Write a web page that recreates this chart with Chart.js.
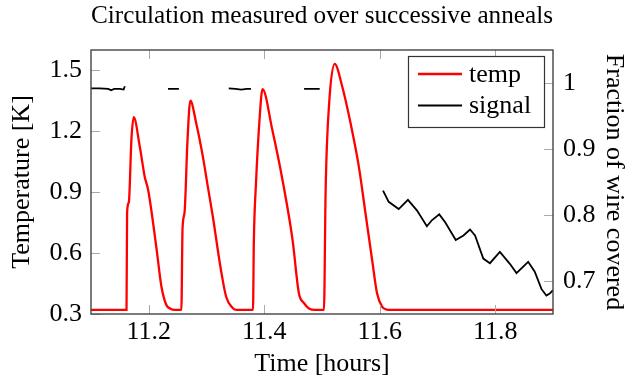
<!DOCTYPE html>
<html>
<head>
<meta charset="utf-8">
<script src="https://cdn.jsdelivr.net/npm/chart.js@4"></script>
<style>
  body { margin: 0; background: #fff; }
  #wrap { width: 628px; height: 379px; }
</style>
</head>
<body>
<div id="wrap"><canvas id="chart" width="628" height="379"></canvas></div>
<script>
// Data
const xTicks = [11.2, 11.4, 11.6, 11.8];
const tempTicks = [0.3, 0.6, 0.9, 1.2, 1.5];
const fracTicks = [0.7, 0.8, 0.9, 1];

const tempTime = [11.100, 11.1615, 11.1625, 11.1655, 11.170, 11.174, 11.1845, 11.193, 11.199, 11.213, 11.222, 11.2305, 11.237, 11.245,
  11.2565, 11.2585, 11.262, 11.267, 11.272, 11.2822, 11.2937, 11.3023, 11.311, 11.325, 11.334, 11.345, 11.352,
  11.3805, 11.382, 11.3857, 11.3914, 11.397, 11.414, 11.4316, 11.449, 11.460, 11.469, 11.478, 11.488,
  11.5034, 11.5063, 11.512, 11.5219, 11.535, 11.5495, 11.5638, 11.5753, 11.5868, 11.5953, 11.604, 11.612, 11.621, 11.900];
const tempVals = [0.32, 0.32, 0.80, 0.85, 1.16, 1.269, 1.124, 0.976, 0.911, 0.632, 0.434, 0.344, 0.327, 0.32,
  0.32, 0.72, 0.80, 1.15, 1.351, 1.239, 1.075, 0.927, 0.779, 0.517, 0.385, 0.331, 0.32,
  0.32, 0.66, 0.944, 1.239, 1.407, 1.206, 0.96, 0.665, 0.402, 0.353, 0.326, 0.32,
  0.32, 0.911, 1.321, 1.532, 1.42, 1.239, 1.026, 0.796, 0.566, 0.402, 0.336, 0.322, 0.32, 0.32];

const sigTime = [11.100, 11.115, 11.130, 11.135, 11.140, 11.150, 11.1565, 11.1586, 11.160,
  11.2333, 11.240, 11.2522, 11.254,
  11.3385, 11.350, 11.360, 11.370, 11.377, 11.379,
  11.469, 11.480, 11.496, 11.500,
  11.6057, 11.6155, 11.6328, 11.6488, 11.6643, 11.6816, 11.6902, 11.703, 11.7133, 11.7316, 11.745, 11.7563,
  11.765, 11.7793, 11.7908, 11.808, 11.8253, 11.8368, 11.857, 11.8684, 11.8799, 11.8885, 11.8943, 11.900];
const sigVals = [0.992, 0.992, 0.991, 0.989, 0.991, 0.991, 0.990, 0.995, null,
  0.991, 0.991, 0.991, null,
  0.992, 0.991, 0.990, 0.991, 0.991, null,
  0.991, 0.991, 0.991, null,
  0.837, 0.820, 0.809, 0.823, 0.807, 0.783, 0.792, 0.801, 0.789, 0.762, 0.769, 0.778,
  0.769, 0.734, 0.727, 0.744, 0.726, 0.712, 0.729, 0.714, 0.688, 0.678, 0.681, 0.686];

const FONT = "'Liberation Serif', 'DejaVu Serif', serif";
const TICK = 9;

// box + inward ticks like pgfplots
const framePlugin = {
  id: 'frame',
  afterDatasetsDraw(chart) {
    const { ctx, chartArea: a, scales } = chart;
    ctx.save();
    ctx.strokeStyle = '#aaa';
    ctx.lineWidth = 1;
    ctx.beginPath();
    scales.x.ticks.forEach(t => {
      const px = Math.round(scales.x.getPixelForValue(t.value)) + 0.5;
      ctx.moveTo(px, a.bottom); ctx.lineTo(px, a.bottom - TICK);
      ctx.moveTo(px, a.top); ctx.lineTo(px, a.top + TICK);
    });
    scales.y.ticks.forEach(t => {
      const py = Math.round(scales.y.getPixelForValue(t.value)) + 0.5;
      ctx.moveTo(a.left, py); ctx.lineTo(a.left + TICK, py);
    });
    scales.y1.ticks.forEach(t => {
      const py = Math.round(scales.y1.getPixelForValue(t.value)) + 0.5;
      ctx.moveTo(a.right, py); ctx.lineTo(a.right - TICK, py);
    });
    ctx.stroke();
    ctx.strokeStyle = '#444';
    ctx.lineWidth = 1.4;
    ctx.strokeRect(a.left, a.top, a.right - a.left, a.bottom - a.top);
    ctx.restore();
  }
};

// legend box inside the plot, top right
const legendPlugin = {
  id: 'boxLegend',
  afterDraw(chart) {
    const { ctx, chartArea: a } = chart;
    const w = 136, h = 71;
    const l = a.right - 145, t = a.top + 6;
    ctx.save();
    ctx.fillStyle = '#fff';
    ctx.fillRect(l, t, w, h);
    ctx.strokeStyle = '#333';
    ctx.lineWidth = 1.2;
    ctx.strokeRect(l + 0.5, t + 0.5, w, h);
    ctx.font = '26px ' + FONT;
    ctx.textBaseline = 'middle';
    chart.data.datasets.forEach((ds, i) => {
      const y = t + 18 + i * 31.5;
      ctx.strokeStyle = ds.borderColor;
      ctx.lineWidth = ds.borderWidth;
      ctx.beginPath();
      ctx.moveTo(l + 10, y); ctx.lineTo(l + 54, y);
      ctx.stroke();
      ctx.fillStyle = '#000';
      ctx.fillText(ds.label, l + 61, y + 1);
    });
    ctx.restore();
  }
};

const tickFont = { family: FONT, size: 26 };
const labelFont = { family: FONT, size: 26, lineHeight: 1 };

new Chart(document.getElementById('chart'), {
  type: 'line',
  data: {
    datasets: [
      {
        label: 'temp',
        data: tempTime.map((t, i) => ({ x: t, y: tempVals[i] })),
        borderColor: '#ff0000',
        borderWidth: 2.3,
        pointRadius: 0,
        cubicInterpolationMode: 'monotone',
        yAxisID: 'y'
      },
      {
        label: 'signal',
        data: sigTime.map((t, i) => ({ x: t, y: sigVals[i] })),
        borderColor: '#000000',
        borderWidth: 1.8,
        pointRadius: 0,
        tension: 0,
        spanGaps: false,
        yAxisID: 'y1'
      }
    ]
  },
  options: {
    responsive: false,
    animation: false,
    events: [],
    layout: { padding: 0 },
    plugins: {
      legend: { display: false },
      tooltip: { enabled: false },
      title: {
        display: true,
        fullSize: false,
        text: 'Circulation measured over successive anneals',
        color: '#000',
        font: { family: FONT, size: 26, weight: 'normal', lineHeight: 1 },
        padding: { top: 3, bottom: 21 }
      }
    },
    scales: {
      x: {
        type: 'linear',
        min: 11.1,
        max: 11.9,
        afterBuildTicks: s => { s.ticks = xTicks.map(v => ({ value: v })); },
        afterFit: s => { s.height = 65; },
        grid: { display: false, drawTicks: false },
        border: { display: false },
        ticks: { color: '#000', font: tickFont, padding: 3, maxRotation: 0, callback: v => v.toFixed(1) },
        title: { display: true, text: 'Time [hours]', color: '#000', font: labelFont, padding: { top: 0, bottom: 2 } }
      },
      y: {
        position: 'left',
        min: 0.3,
        max: 1.6,
        afterBuildTicks: s => { s.ticks = tempTicks.map(v => ({ value: v })); },
        afterFit: s => { s.width = 91; },
        grid: { display: false, drawTicks: false },
        border: { display: false },
        ticks: { color: '#000', font: tickFont, padding: 9, callback: v => v.toFixed(1) },
        title: { display: true, text: 'Temperature [K]', color: '#000', font: labelFont, padding: { top: 9, bottom: 0 } }
      },
      y1: {
        position: 'right',
        min: 0.65,
        max: 1.05,
        afterBuildTicks: s => { s.ticks = fracTicks.map(v => ({ value: v })); },
        afterFit: s => { s.width = 75; },
        grid: { display: false, drawTicks: false },
        border: { display: false },
        ticks: { color: '#000', font: tickFont, padding: 10, callback: v => String(v) },
        title: { display: true, text: 'Fraction of wire covered', color: '#000', font: labelFont, padding: { top: 1, bottom: 0 } }
      }
    }
  },
  plugins: [framePlugin, legendPlugin]
});
</script>
</body>
</html>
